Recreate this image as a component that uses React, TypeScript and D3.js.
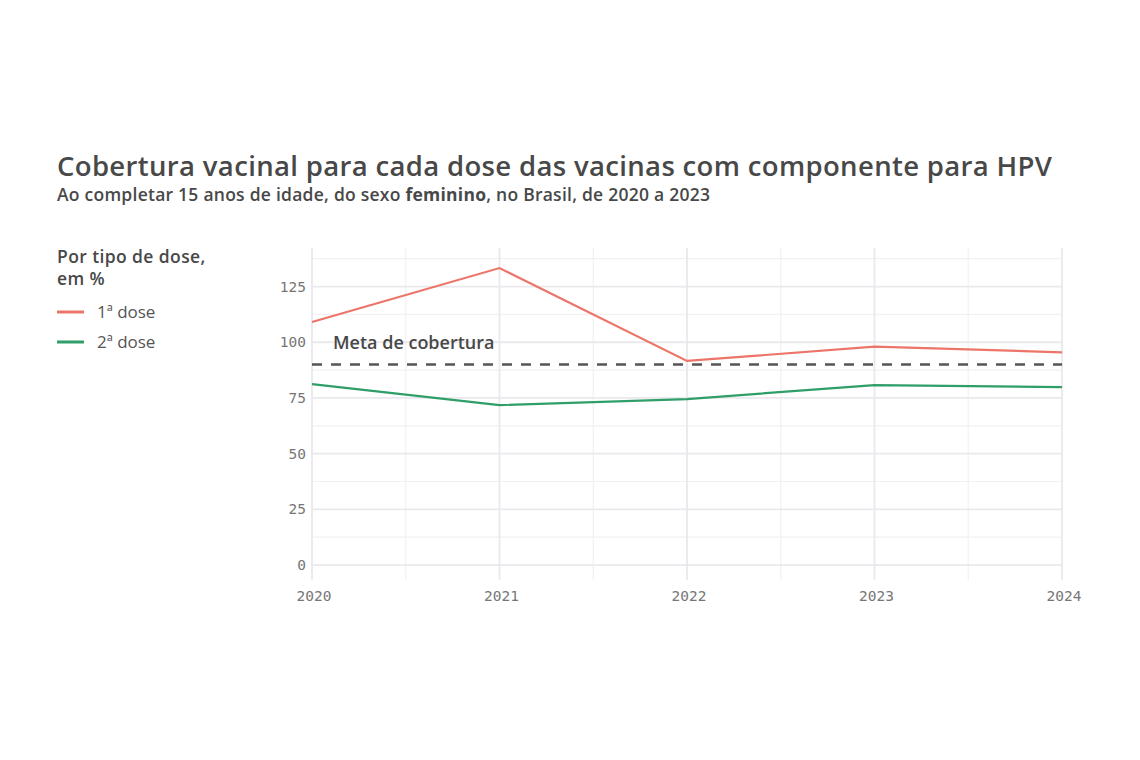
import React from "react";
import * as d3 from "d3";

const years = [2020, 2021, 2022, 2023, 2024];
const dose1 = [109.1, 133.3, 91.6, 98.0, 95.5];
const dose2 = [81.2, 71.8, 74.5, 80.8, 79.9];
const yTicks = [0, 25, 50, 75, 100, 125];
const meta = 90;

const seriesNames = ["1ª dose", "2ª dose"];
const seriesColors = ["#ec7468", "#2f9e68"];

const W = 1140;
const H = 760;
const panel = { left: 312, right: 1062, top: 248, bottom: 580 };

const App = () => {
  const x = d3.scaleLinear().domain([2020, 2024]).range([panel.left, panel.right]);
  const y = d3.scaleLinear().domain([-6.7, 142.3]).range([panel.bottom, panel.top]);

  const line = d3
    .line<number>()
    .x((_, i) => x(years[i]))
    .y((d) => y(d));

  const minorX = d3.range(2020.5, 2024, 1);
  const minorY = yTicks.map((t) => t + 12.5).filter((t) => t < 142);

  const tickFont = "'DejaVu Sans Mono', monospace";
  const textFont = "'Open Sans', sans-serif";

  return (
    <svg
      width={W}
      height={H}
      style={{ position: "absolute", left: 0, top: 0, background: "#fff" }}
    >
      {/* titles */}
      <text
        x={57}
        y={176}
        fontFamily={textFont}
        fontSize={27.5}
        fontWeight={600}
        fill="#484848"
        textLength={995}
        lengthAdjust="spacing"
      >
        Cobertura vacinal para cada dose das vacinas com componente para HPV
      </text>
      <text
        x={57}
        y={201}
        fontFamily={textFont}
        fontSize={17.5}
        fontWeight={600}
        fill="#484848"
        textLength={653}
        lengthAdjust="spacing"
      >
        Ao completar 15 anos de idade, do sexo <tspan fontWeight={700}>feminino</tspan>, no Brasil, de 2020 a 2023
      </text>

      {/* legend */}
      <text fontFamily={textFont} fontSize={17.5} fontWeight={600} fill="#484848" letterSpacing={0.4}>
        <tspan x={57} y={263}>Por tipo de dose,</tspan>
        <tspan x={57} y={285}>em %</tspan>
      </text>
      {seriesNames.map((name, i) => (
        <g key={name} transform={`translate(57,${312 + i * 30})`}>
          <line x1={0} x2={27} y1={0} y2={0} stroke={seriesColors[i]} strokeWidth={3} />
          <text x={40} y={6} fontFamily={textFont} fontSize={17} fill="#555">
            {name}
          </text>
        </g>
      ))}

      {/* grid */}
      <g>
        {minorY.map((t) => (
          <line key={"my" + t} x1={panel.left} x2={panel.right} y1={y(t)} y2={y(t)} stroke="#f1f1f4" strokeWidth={1.2} />
        ))}
        {minorX.map((t) => (
          <line key={"mx" + t} x1={x(t)} x2={x(t)} y1={panel.top} y2={panel.bottom} stroke="#f1f1f4" strokeWidth={1.2} />
        ))}
        {yTicks.map((t) => (
          <line key={"y" + t} x1={panel.left} x2={panel.right} y1={y(t)} y2={y(t)} stroke="#e9e9ee" strokeWidth={1.8} />
        ))}
        {years.map((t) => (
          <line key={"x" + t} x1={x(t)} x2={x(t)} y1={panel.top} y2={panel.bottom} stroke="#e9e9ee" strokeWidth={1.8} />
        ))}
      </g>

      {/* axis labels */}
      {yTicks.map((t) => (
        <text key={"yl" + t} x={306} y={y(t) + 5} textAnchor="end" fontFamily={tickFont} fontSize={14.5} fill="#767676">
          {t}
        </text>
      ))}
      {years.map((t) => (
        <text key={"xl" + t} x={x(t) + 2} y={601} textAnchor="middle" fontFamily={tickFont} fontSize={14.5} fill="#767676">
          {t}
        </text>
      ))}

      {/* target line */}
      <line
        x1={panel.left}
        x2={panel.right}
        y1={y(meta)}
        y2={y(meta)}
        stroke="#555"
        strokeWidth={2.4}
        strokeDasharray="10,9"
      />
      <text x={333} y={349} fontFamily={textFont} fontSize={18} fontWeight={600} fill="#484848">
        Meta de cobertura
      </text>

      {/* series */}
      {[dose1, dose2].map((s, i) => (
        <path key={i} d={line(s) || ""} fill="none" stroke={seriesColors[i]} strokeWidth={2.2} />
      ))}
    </svg>
  );
};

export default App;
